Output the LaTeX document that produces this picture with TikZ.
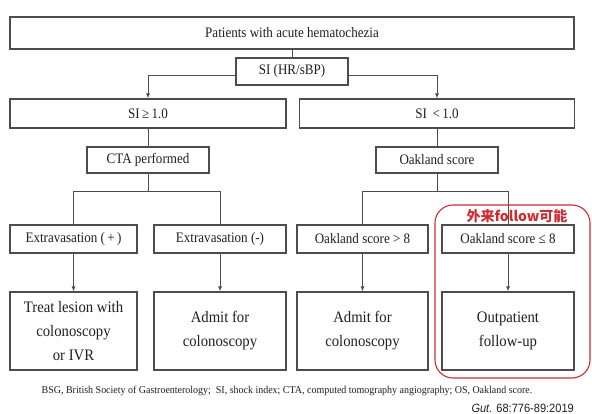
\documentclass[tikz,border=0pt]{standalone}
\usepackage{fontspec}
\usetikzlibrary{arrows.meta}
\setmainfont{Liberation Serif}
\newfontfamily\tnr{Liberation Serif}[FakeStretch=0.9]
\newfontfamily\tnrb{Liberation Serif}[FakeStretch=0.92]
\newfontfamily\capf{Liberation Serif}[FakeStretch=0.95]
\newfontfamily\arl{Liberation Sans}[FakeStretch=0.92]
\newfontfamily\cjk{Noto Sans CJK SC}
\definecolor{linegray}{RGB}{80,76,76}
\definecolor{hlred}{RGB}{205,45,50}
\definecolor{txt}{RGB}{35,30,30}
\tikzset{
  box/.style={draw=linegray, line width=1.1pt, fill=white, inner sep=0pt, align=center, text=txt, font=\tnr\fontsize{14.5}{17}\selectfont},
  bigbox/.style={box, font=\tnrb\fontsize{16}{24}\selectfont},
  conn/.style={draw=linegray, line width=1pt},
  arr/.style={conn, -{Latex[length=5pt,width=4pt]}},
}
\begin{document}
\begin{tikzpicture}[x=1pt,y=-1pt]
\useasboundingbox[fill=white] (0,0) rectangle (592,414);
% boxes
\node[box, minimum width=564pt, minimum height=32pt] (top) at (292,33) {Patients with acute hematochezia};
\node[box, minimum width=112pt, minimum height=27pt] (si) at (292,71.5) {SI (HR/sBP)};
\node[box, minimum width=276pt, minimum height=29pt] (ge) at (148,113.5) {SI\,≥\,1.0};
\node[box, minimum width=275pt, minimum height=29pt] (lt) at (437,113.5) {SI \,<\,1.0};
\node[box, minimum width=122pt, minimum height=26pt] (cta) at (148,160) {CTA performed};
\node[box, minimum width=122pt, minimum height=26pt] (oak) at (437,160) {Oakland score};
\node[box, minimum width=127pt, minimum height=28pt] (ep) at (73.5,239) {Extravasation (\,+\,)};
\node[box, minimum width=132pt, minimum height=28pt] (en) at (220,239) {Extravasation (-)};
\node[box, minimum width=131pt, minimum height=28pt] (o8) at (362.5,239) {Oakland score > 8};
\node[box, minimum width=132pt, minimum height=28pt] (ol) at (508,239) {Oakland score ≤ 8};
\node[bigbox, minimum width=127pt, minimum height=78pt, text depth=0pt] (b1) at (73.5,331) {Treat lesion with\\colonoscopy\\or IVR};
\node[bigbox, minimum width=132pt, minimum height=78pt] (b2) at (220,331) {Admit for\\colonoscopy};
\node[bigbox, minimum width=131pt, minimum height=78pt] (b3) at (362.5,331) {Admit for\\colonoscopy};
\node[bigbox, minimum width=132pt, minimum height=78pt] (b4) at (508,331) {Outpatient\\follow-up};
% connectors
\coordinate (cj) at (148,192);
\coordinate (oj) at (437,192);
\draw[conn] (top) -- (si);
\draw[arr] ([yshift=-4pt]si.west) -| (ge.north);
\draw[arr] ([yshift=-4pt]si.east) -| (lt.north);
\draw[conn] (ge) -- (cta);
\draw[conn] (lt) -- (oak);
\draw[conn] (cta) -- (cj);
\draw[conn] (oak) -- (oj);
\draw[conn] (ep.north) -- (ep.north |- cj) -- (en.north |- cj) -- (en.north);
\draw[conn] (o8.north) -- (o8.north |- oj) -- (ol.north |- oj) -- (ol.north);
\draw[arr] (ep) -- (b1);
\draw[arr] (en) -- (b2);
\draw[arr] (o8) -- (b3);
\draw[arr] (ol) -- (b4);
% highlight
\draw[hlred, line width=1.1pt, rounded corners=18pt] (435,205) rectangle (590,378);
\node[text=hlred, font=\cjk\bfseries\fontsize{14}{16}\selectfont, inner sep=0pt] (rt) at (517,216) {外来follow可能};
% caption
\node[text=txt, font=\capf\fontsize{10.5}{12}\selectfont, inner sep=0pt] (cap) at (287,391) {BSG, British Society of Gastroenterology;\ \ SI, shock index; CTA, computed tomography angiography; OS, Oakland score.};
\node[text=txt, font=\arl\fontsize{12}{14}\selectfont, inner sep=0pt, anchor=east] (gut) at (574,408) {\textit{Gut.} 68:776-89:2019};
\end{tikzpicture}
\end{document}
